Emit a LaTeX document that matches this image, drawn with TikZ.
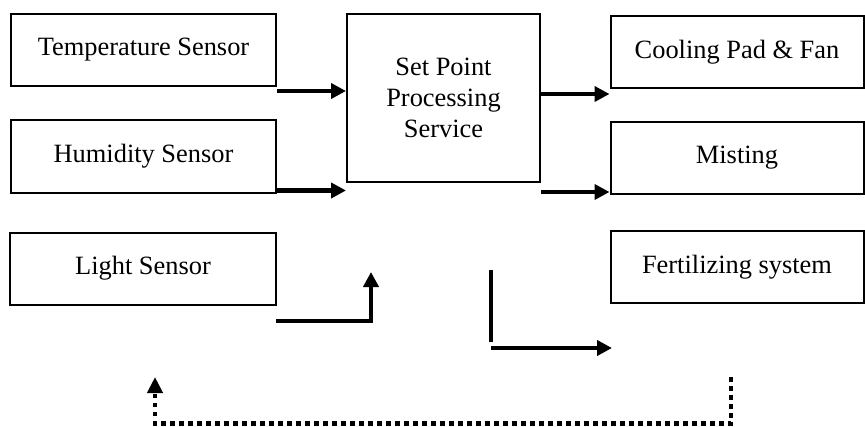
\documentclass[tikz,border=0pt]{standalone}
\usepackage{fontspec}
\setmainfont{Liberation Serif}
\usetikzlibrary{arrows.meta}
\begin{document}
\begin{tikzpicture}[x=0.5pt,y=-0.5pt,
	box/.style={draw,line width=1pt,minimum width=132.5pt,minimum height=36pt,inner sep=0pt,font=\fontsize{13.2}{15.5}\selectfont},
	flow/.style={line width=2.3pt,-{Triangle[length=7.5pt,width=7.5pt]}},
	feedback/.style={line width=2.25pt,dash pattern=on 2.25pt off 2.25pt,-{Triangle[length=8pt,width=7.5pt]}}]
	
	\useasboundingbox (0,0) rectangle (865,427);
	
	% sensors
	\node[box] (temp) at (143.5,50){Temperature Sensor};
	\node[box] (hum) at (143.5,156.5){Humidity Sensor};
	\node[box,minimum width=133pt] (light) at (143,268.5){Light Sensor};
	
	% set point
	\node[box,minimum width=96.5pt,minimum height=84pt,align=center] (sps) at (443.5,98){Set Point\\Processing\\Service};
	
	% actuators
	\node[box,minimum width=126.5pt] (cool) at (737,52){Cooling Pad \& Fan};
	\node[box,minimum width=126.5pt] (mist) at (737,158){Misting};
	\node[box,minimum width=126.5pt] (fert) at (737,267){Fertilizing system};
	
	\coordinate (t1) at ([yshift=-2pt]temp.south east);
	\coordinate (h1) at ([yshift=1.5pt]hum.south east);
	\coordinate (c1) at ([yshift=-2.5pt]cool.south west);
	\coordinate (m1) at ([yshift=1.5pt]mist.south west);
	\draw[flow](t1)--(t1 -| sps.west);
	\draw[flow](h1)--(h1 -| sps.west);
	\draw[flow](c1 -| sps.east)--(c1);
	\draw[flow](m1 -| sps.east)--(m1);
	
	\coordinate (l1) at (276,321);
	\coordinate (l2) at (371,272);
	\draw[flow](l1)-|(l2);
	
	\coordinate (o1) at (491,270);
	\coordinate (o2) at (491,342);
	\coordinate (o3) at (491,348);
	\coordinate (o4) at (612,348);
	\draw[line width=2.2pt](o1)--(o2);
	\draw[flow](o3)--(o4);
	
	\coordinate (f1) at (731,377);
	\coordinate (f2) at (155,377);
	\draw[feedback](f1)--(731,423.5)-|(f2);
	
\end{tikzpicture}
\end{document}
